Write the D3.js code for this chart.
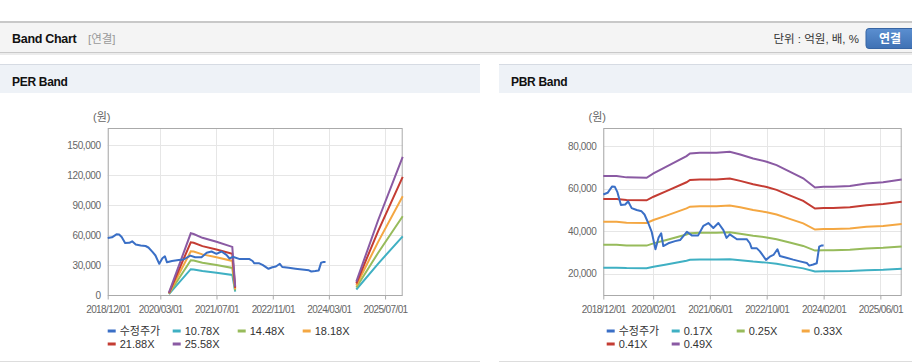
<!DOCTYPE html>
<html>
<head>
<meta charset="utf-8">
<script src="https://cdn.jsdelivr.net/npm/d3@7"></script>
<style>
  body { margin: 0; background: #fff; font-family: "Liberation Sans", "Noto Sans CJK KR", sans-serif; }
  svg text { font-family: "Liberation Sans", "Noto Sans CJK KR", sans-serif; }
</style>
</head>
<body>
<svg id="chart" width="912" height="364"></svg>
<script>
// price (수정주가), shared by both panels
let priceDates = ["2018-12-01","2019-01-07","2019-02-15","2019-03-10","2019-04-01","2019-05-01","2019-06-07","2019-07-01",
  "2019-08-01","2019-09-13","2019-10-25","2019-11-19","2019-12-22","2020-01-19","2020-02-21","2020-03-19","2020-04-10",
  "2020-04-28","2020-06-10","2020-08-07","2020-09-19","2020-11-16","2020-12-28","2021-02-21","2021-04-07","2021-05-19",
  "2021-07-01","2021-08-13","2021-09-25","2021-10-22","2021-11-19","2022-01-19","2022-04-13","2022-05-10","2022-05-25",
  "2022-07-07","2022-08-04","2022-09-25","2022-10-28","2022-11-28","2023-01-01","2023-01-22","2023-03-19","2023-05-16",
  "2023-07-13","2023-09-10","2023-10-01","2023-11-04","2023-12-04","2023-12-25","2024-01-16","2024-02-01"];
let priceValues = [57200, 58000, 61000, 60800, 58300, 52300, 52500, 54000, 50800, 49900, 49300, 47800, 43700, 39800,
  31500, 37000, 39000, 33000, 34300, 35300, 35800, 39700, 38000, 38000, 42500, 43800, 41500, 43800, 40500, 36800,
  38500, 36200, 36200, 34300, 32000, 32000, 30500, 26500, 28000, 28800, 31500, 28300, 27500, 26600, 25800, 25000,
  23800, 24300, 24900, 32700, 33300, 33200];

// PER band
let perDates = ["2020-05-15","2020-11-20","2020-12-15","2021-03-01","2021-07-01","2021-11-15","2021-12-10",
  "2023-01-01","2024-10-25","2025-05-01","2025-12-01"];
let perNames = ["10.78X", "14.48X", "18.18X", "21.88X", "25.58X"];
let per1078 = [1100, 26100, 25900, 24200, 22600, 20400, 3700, null, 5800, 31500, 59000];
let per1448 = [1500, 35000, 34800, 32600, 30300, 27400, 4900, null, 7800, 42300, 79000];
let per1818 = [1900, 44000, 43700, 40900, 38000, 34400, 6200, null, 9800, 53200, 99000];
let per2188 = [2200, 53000, 52600, 49200, 45800, 41400, 7400, null, 11800, 64000, 118500];
let per2558 = [2600, 62000, 61300, 57500, 53500, 48400, 8700, null, 13700, 74800, 138500];
let perYTicks = [0, 30000, 60000, 90000, 120000, 150000];
let perXTicks = ["2018-12-01", "2020-03-01", "2021-07-01", "2022-11-01", "2024-03-01", "2025-07-01"];

// PBR band
let pbrDates = ["2018-12-01","2019-03-25","2019-06-18","2019-12-07","2020-02-04","2020-05-25","2020-11-13","2020-12-13",
  "2021-03-07","2021-07-28","2021-11-19","2022-02-16","2022-06-07","2022-10-01","2022-12-25","2023-04-16","2023-08-10",
  "2023-11-19","2024-02-01","2024-04-22","2024-09-13","2025-02-01","2025-06-25","2025-12-01"];
let pbrNames = ["0.17X", "0.25X", "0.33X", "0.41X", "0.49X"];
let pbr017 = [22850, 22850, 22650, 22550, 23300, 24350, 26100, 26550, 26650, 26650, 26800, 26350, 25700, 25200, 24650,
  23550, 22500, 21000, 21100, 21100, 21250, 21650, 21850, 22300];
let pbr025 = [33600, 33600, 33300, 33200, 34250, 35850, 38400, 39050, 39200, 39200, 39450, 38800, 37850, 37050, 36200,
  34650, 33050, 30850, 31050, 31050, 31200, 31850, 32150, 32800];
let pbr033 = [44350, 44350, 43950, 43800, 45200, 47300, 50700, 51500, 51700, 51700, 52050, 51200, 49950, 48900, 47800,
  45750, 43650, 40750, 41000, 41000, 41200, 42000, 42450, 43300];
let pbr041 = [55100, 55100, 54600, 54450, 56150, 58800, 62950, 64000, 64250, 64250, 64700, 63600, 62050, 60750, 59400,
  56800, 54200, 50600, 50900, 50900, 51200, 52200, 52700, 53800];
let pbr049 = [65850, 65850, 65250, 65050, 67100, 70250, 75250, 76500, 76800, 76800, 77300, 76000, 74150, 72600, 71000,
  67900, 64800, 60500, 60850, 60850, 61200, 62400, 63000, 64300];
let pbrYTicks = [20000, 40000, 60000, 80000];
let pbrXTicks = ["2018-12-01", "2020-02-01", "2021-06-01", "2022-10-01", "2024-02-01", "2025-06-01"];

let colors = ["#3a6fc6", "#3fb0c3", "#97bb5b", "#f4a742", "#c43c33", "#8a5aa3"];
let parse = d3.timeParse("%Y-%m-%d");

let svg = d3.select("#chart");

// page header
svg.append("rect").attr("x", 0).attr("y", 21).attr("width", 912).attr("height", 2).attr("fill", "#c8c8c8");
svg.append("rect").attr("x", 0).attr("y", 23).attr("width", 912).attr("height", 29).attr("fill", "#f4f4f4");
svg.append("rect").attr("x", 0).attr("y", 52).attr("width", 912).attr("height", 1).attr("fill", "#c9c9c9");
svg.append("rect").attr("x", 0).attr("y", 53).attr("width", 912).attr("height", 2).attr("fill", "#ececec");
svg.append("text").attr("x", 12).attr("y", 43).attr("font-size", 12.5).attr("font-weight", "bold")
  .attr("fill", "#111").attr("letter-spacing", -0.3).text("Band Chart");
svg.append("text").attr("x", 88).attr("y", 43).attr("font-size", 11.5).attr("fill", "#999").text("[연결]");
svg.append("text").attr("x", 859).attr("y", 43).attr("font-size", 11.5).attr("fill", "#333")
  .attr("text-anchor", "end").text("단위 : 억원, 배, %");
let grad = svg.append("defs").append("linearGradient").attr("id", "btn").attr("x1", 0).attr("y1", 0).attr("x2", 0).attr("y2", 1);
grad.append("stop").attr("offset", 0).attr("stop-color", "#5b8fd0");
grad.append("stop").attr("offset", 1).attr("stop-color", "#3f71b4");
svg.append("rect").attr("x", 866).attr("y", 28.5).attr("width", 52).attr("height", 20).attr("rx", 3)
  .attr("fill", "url(#btn)").attr("stroke", "#3765a3");
svg.append("text").attr("x", 890).attr("y", 43).attr("font-size", 12).attr("font-weight", "bold")
  .attr("fill", "#fff").attr("text-anchor", "middle").text("연결");

function drawPanel(p) {
  // panel header + borders
  svg.append("rect").attr("x", p.left).attr("y", 64).attr("width", p.width).attr("height", 29).attr("fill", "#eef2f7");
  svg.append("rect").attr("x", p.left).attr("y", 64).attr("width", p.width).attr("height", 1).attr("fill", "#d6dbe3");
  svg.append("rect").attr("x", p.left).attr("y", 361).attr("width", p.width).attr("height", 1).attr("fill", "#dddddd");
  svg.append("text").attr("x", p.left + 12).attr("y", 86).attr("font-size", 12).attr("font-weight", "bold")
    .attr("fill", "#111").attr("letter-spacing", -0.3).text(p.title);

  let x = d3.scaleTime().domain([parse("2018-12-01"), parse("2025-12-01")]).range([p.x0, p.x1]);
  let y = d3.scaleLinear().domain(p.yDomain).range([295.3, 128.3]);
  let g = svg.append("g");

  // grid
  g.selectAll(".hg").data(p.yTicks).enter().append("line")
    .attr("x1", p.x0).attr("x2", p.x1)
    .attr("y1", d => Math.round(y(d)) + 0.5).attr("y2", d => Math.round(y(d)) + 0.5)
    .attr("stroke", "#e6e6e6");
  g.selectAll(".vg").data(p.xTicks.map(parse)).enter().append("line")
    .attr("x1", d => Math.round(x(d)) + 0.5).attr("x2", d => Math.round(x(d)) + 0.5)
    .attr("y1", 128.3).attr("y2", 295.3)
    .attr("stroke", "#e6e6e6");

  // axes
  let yAxis = g.append("g").attr("transform", "translate(" + p.x0 + ",0)")
    .call(d3.axisLeft(y).tickValues(p.yTicks).tickSize(0).tickPadding(7).tickFormat(d3.format(",")));
  yAxis.select(".domain").remove();
  yAxis.selectAll("text").attr("font-size", 10).attr("letter-spacing", -0.4).attr("fill", "#666").attr("font-family", null);

  let xAxis = g.append("g").attr("transform", "translate(0,295.5)")
    .call(d3.axisBottom(x).tickValues(p.xTicks.map(parse)).tickSize(4).tickPadding(6)
      .tickFormat(d3.timeFormat("%Y/%m/%d")));
  xAxis.select(".domain").remove();
  xAxis.selectAll("line").attr("stroke", "#aaa");
  xAxis.selectAll("text").attr("font-size", 10).attr("letter-spacing", -0.6).attr("fill", "#666").attr("font-family", null);

  g.append("rect").attr("x", p.x0 + 0.5).attr("y", 128.5).attr("width", p.x1 - p.x0 - 1).attr("height", 167)
    .attr("fill", "none").attr("stroke", "#aaa");

  g.append("text").attr("x", p.x0 - 6).attr("y", 121).attr("font-size", 11).attr("fill", "#666")
    .attr("text-anchor", "middle").text("(원)");

  // lines
  let line = d3.line().defined(d => d.v != null).x(d => x(d.date)).y(d => y(d.v));
  let plot = g.append("g");
  p.bands.forEach((vals, i) => {
    let pts = p.dates.map((dt, j) => ({ date: parse(dt), v: vals[j] }));
    plot.append("path").datum(pts).attr("d", line)
      .attr("fill", "none").attr("stroke", colors[i + 1]).attr("stroke-width", 2);
  });
  let pricePts = priceDates.map((dt, j) => ({ date: parse(dt), v: priceValues[j] }));
  plot.append("path").datum(pricePts).attr("d", line)
    .attr("fill", "none").attr("stroke", colors[0]).attr("stroke-width", 2).attr("stroke-linejoin", "round");

  // legend
  let names = ["수정주가"].concat(p.names);
  let legend = g.append("g");
  let items = legend.selectAll("g").data(names).enter().append("g")
    .attr("transform", (d, i) => "translate(" + (p.legendX + (i % 4) * 65) + "," + (331 + Math.floor(i / 4) * 13) + ")");
  items.append("rect").attr("x", 0).attr("y", -1.5).attr("width", 8).attr("height", 3).attr("fill", (d, i) => colors[i]);
  items.append("text").attr("x", 12).attr("y", 4).attr("font-size", 11).attr("fill", "#333").text(d => d);
}

drawPanel({
  title: "PER Band", left: 0, width: 480, x0: 107.7, x1: 402.7,
  yDomain: [0, 167000], yTicks: perYTicks, xTicks: perXTicks,
  dates: perDates, bands: [per1078, per1448, per1818, per2188, per2558], names: perNames, legendX: 107.7
});
drawPanel({
  title: "PBR Band", left: 499, width: 413, x0: 603.3, x1: 901.7,
  yDomain: [9850, 88300], yTicks: pbrYTicks, xTicks: pbrXTicks,
  dates: pbrDates, bands: [pbr017, pbr025, pbr033, pbr041, pbr049], names: pbrNames, legendX: 606.7
});
</script>
</body>
</html>
